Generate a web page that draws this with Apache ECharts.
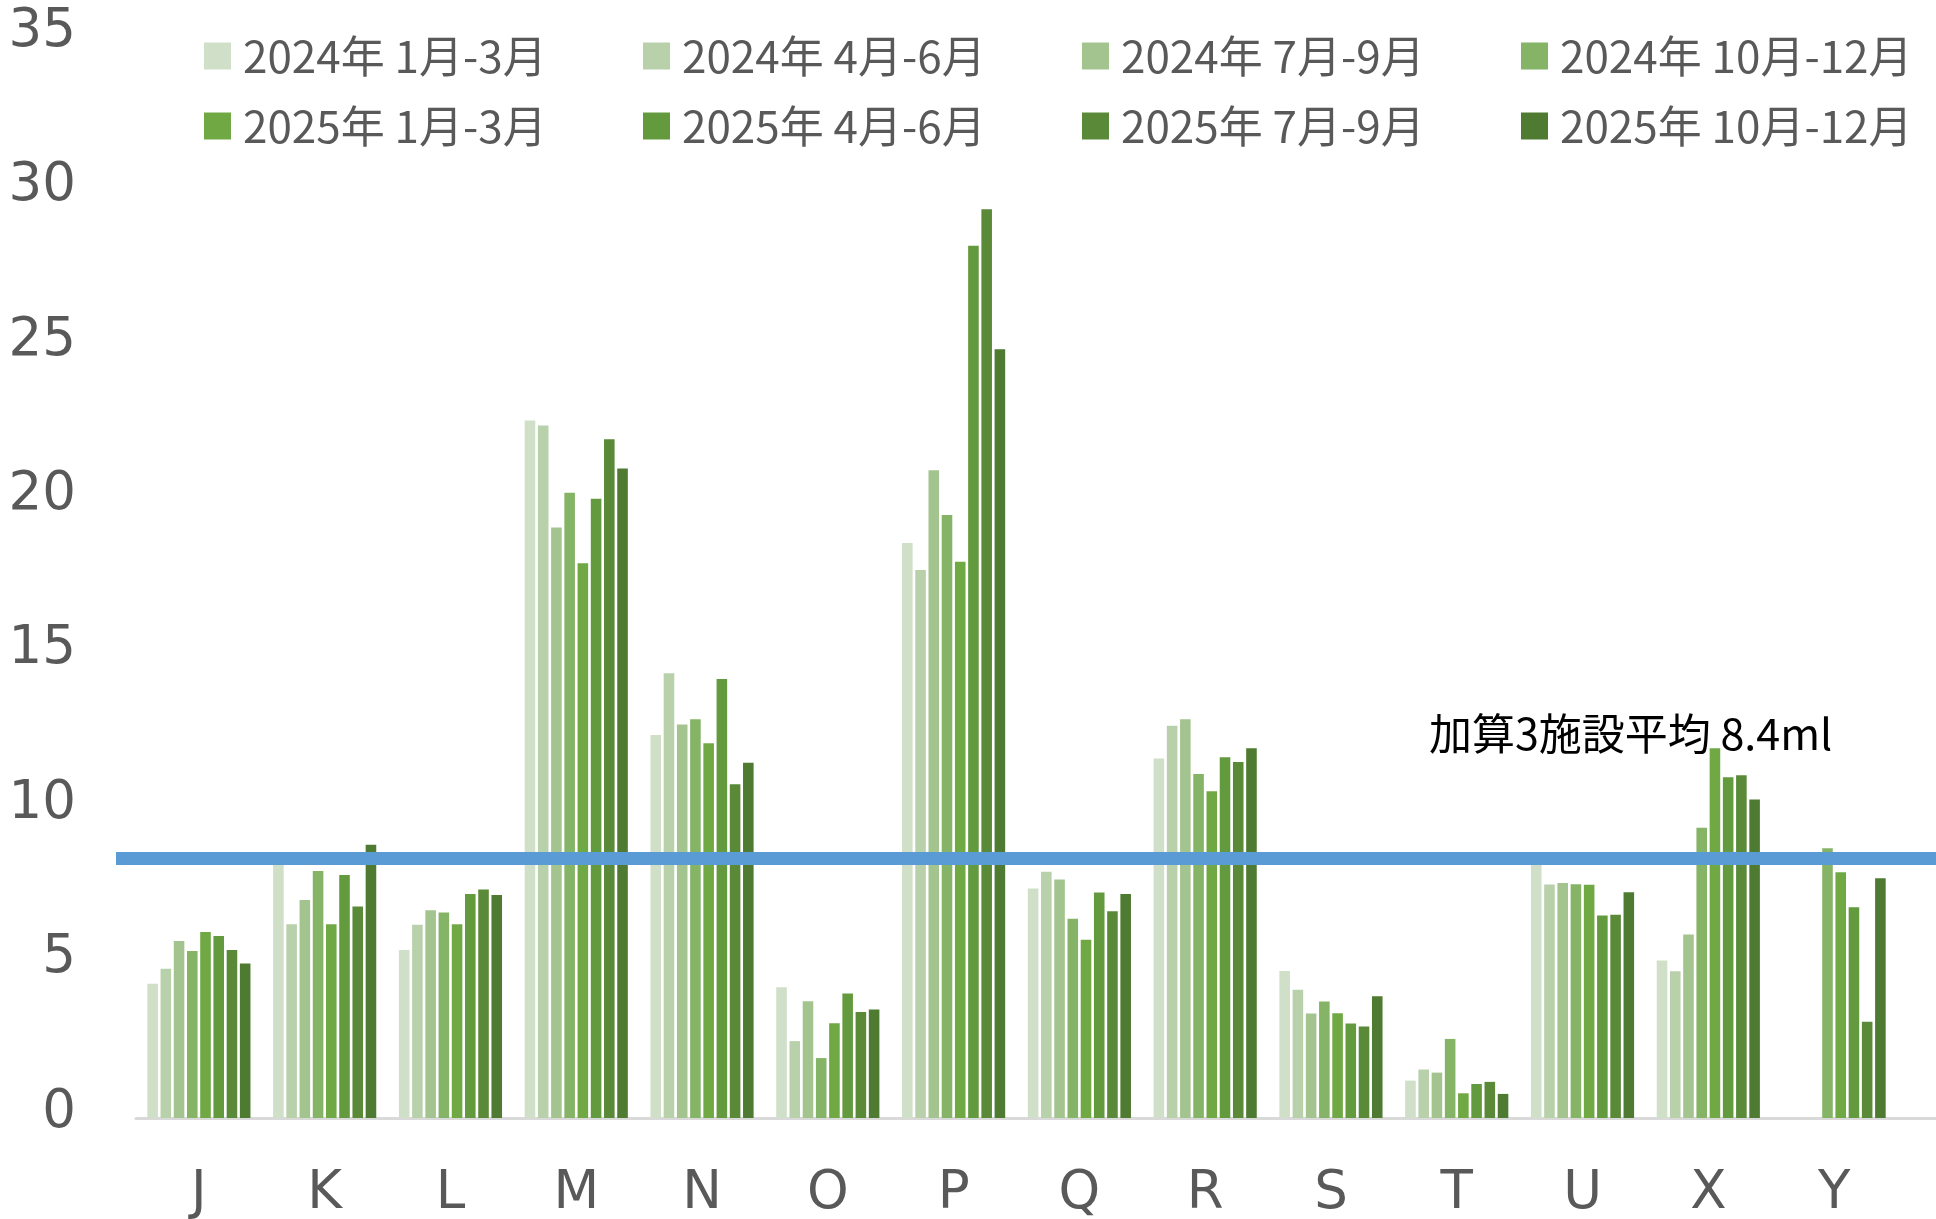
<!DOCTYPE html>
<html>
<head>
<meta charset="utf-8">
<script src="https://cdn.jsdelivr.net/npm/echarts@6/dist/echarts.min.js"></script>
<style>
    html, body { margin: 0; padding: 0; background: #fff; }
    #main { width: 1936px; height: 1219px; }
</style>
</head>
<body>
<div id="main"></div>
<script>
// データ
var categories = ['J', 'K', 'L', 'M', 'N', 'O', 'P', 'Q', 'R', 'S', 'T', 'U', 'X', 'Y'];
var seriesNames = ['2024年 1月-3月', '2024年 4月-6月', '2024年 7月-9月', '2024年 10月-12月',
                   '2025年 1月-3月', '2025年 4月-6月', '2025年 7月-9月', '2025年 10月-12月'];
var colors = ['#d0dfc8', '#b8d1ab', '#a4c48f', '#85b466', '#70a844', '#649a3e', '#5a8a38', '#4e7a31'];

var q2024_1 = [4.35, 8.3, 5.44, 22.58, 12.40, 4.23, 18.62, 7.43, 11.64, 4.76, 1.21, 8.3, 5.10, null];
var q2024_2 = [4.83, 6.27, 6.26, 22.42, 14.40, 2.49, 17.74, 7.97, 12.70, 4.15, 1.57, 7.56, 4.75, null];
var q2024_3 = [5.73, 7.06, 6.73, 19.12, 12.74, 3.78, 20.97, 7.72, 12.91, 3.38, 1.47, 7.61, 5.94, null];
var q2024_4 = [5.41, 8.00, 6.65, 20.24, 12.91, 1.94, 19.52, 6.45, 11.14, 3.77, 2.56, 7.57, 9.40, 8.73];
var q2025_1 = [6.02, 6.27, 6.27, 17.96, 12.13, 3.07, 18.01, 5.77, 10.58, 3.39, 0.80, 7.55, 11.97, 7.96];
var q2025_2 = [5.89, 7.87, 7.25, 20.05, 14.21, 4.03, 28.24, 7.30, 11.68, 3.06, 1.10, 6.56, 11.03, 6.82];
var q2025_3 = [5.44, 6.85, 7.40, 21.98, 10.81, 3.43, 29.42, 6.69, 11.53, 2.96, 1.17, 6.58, 11.10, 3.12];
var q2025_4 = [5.00, 8.85, 7.22, 21.03, 11.50, 3.51, 24.89, 7.25, 11.97, 3.94, 0.78, 7.31, 10.31, 7.76];
var allData = [q2024_1, q2024_2, q2024_3, q2024_4, q2025_1, q2025_2, q2025_3, q2025_4];

var average = 8.4;
var averageLabel = '加算3施設平均 8.4ml';

var myChart = echarts.init(document.getElementById('main'));

var barSeries = allData.map(function (d, i) {
    return {
        name: seriesNames[i],
        type: 'bar',
        xAxisIndex: 0,
        yAxisIndex: 0,
        data: d,
        barGap: '25%',
        barCategoryGap: '18%',
        itemStyle: { color: colors[i] },
        z: 2
    };
});

// 凡例は4列 x 2行
var legendLefts = [204, 643, 1082, 1521];
var legends = legendLefts.map(function (x, c) {
    return {
        orient: 'vertical',
        left: x,
        top: 34,
        padding: 0,
        itemGap: 26,
        itemWidth: 27,
        itemHeight: 27,
        icon: 'rect',
        data: [seriesNames[c], seriesNames[c + 4]],
        textStyle: {
            fontFamily: '"Noto Sans CJK JP"',
            fontSize: 44,
            color: '#595959',
            padding: [0, 0, 14, 7]
        }
    };
});

myChart.setOption({
    animation: false,
    backgroundColor: '#fff',
    legend: legends,
    grid: [
        { left: 136, right: 39, top: 37, bottom: 101, outerBoundsMode: 'none' },
        { left: 116, right: 0, top: 37, bottom: 101, outerBoundsMode: 'none' },
        { left: 136, right: 0, top: 37, bottom: 101, outerBoundsMode: 'none' }
    ],
    xAxis: [
        {
            gridIndex: 0,
            type: 'category',
            data: categories,
            axisLine: { show: false },
            axisTick: { show: false },
            axisLabel: {
                fontFamily: '"DejaVu Sans"',
                fontSize: 53,
                color: '#595959',
                margin: 50
            }
        },
        { gridIndex: 1, type: 'value', min: 0, max: 1, show: false },
        {
            gridIndex: 2,
            type: 'category',
            data: [''],
            axisLine: { lineStyle: { color: '#d9d9d9', width: 3 } },
            axisTick: { show: false },
            axisLabel: { show: false }
        }
    ],
    yAxis: [
        {
            gridIndex: 0,
            type: 'value',
            min: 0,
            max: 35,
            interval: 5,
            axisLine: { show: false },
            axisTick: { show: false },
            splitLine: { show: false },
            axisLabel: {
                margin: 60,
                formatter: '{v|{value}}',
                rich: {
                    v: {
                        fontFamily: '"DejaVu Sans"',
                        fontSize: 53,
                        color: '#595959',
                        padding: [0, 0, 10, 0]
                    }
                }
            }
        },
        { gridIndex: 1, type: 'value', min: 0, max: 35, show: false },
        { gridIndex: 2, type: 'value', min: 0, max: 35, show: false }
    ],
    series: barSeries.concat([
        {
            name: 'avg',
            type: 'line',
            xAxisIndex: 1,
            yAxisIndex: 1,
            data: [[0, average], [1, average]],
            symbol: 'none',
            lineStyle: { color: '#5b9bd5', width: 13 },
            z: 5
        }
    ]),
    graphic: [
        {
            type: 'text',
            left: 1429,
            top: 712,
            style: {
                text: averageLabel,
                font: '43px "Noto Sans CJK JP"',
                fill: '#000'
            }
        }
    ]
});
</script>
</body>
</html>
